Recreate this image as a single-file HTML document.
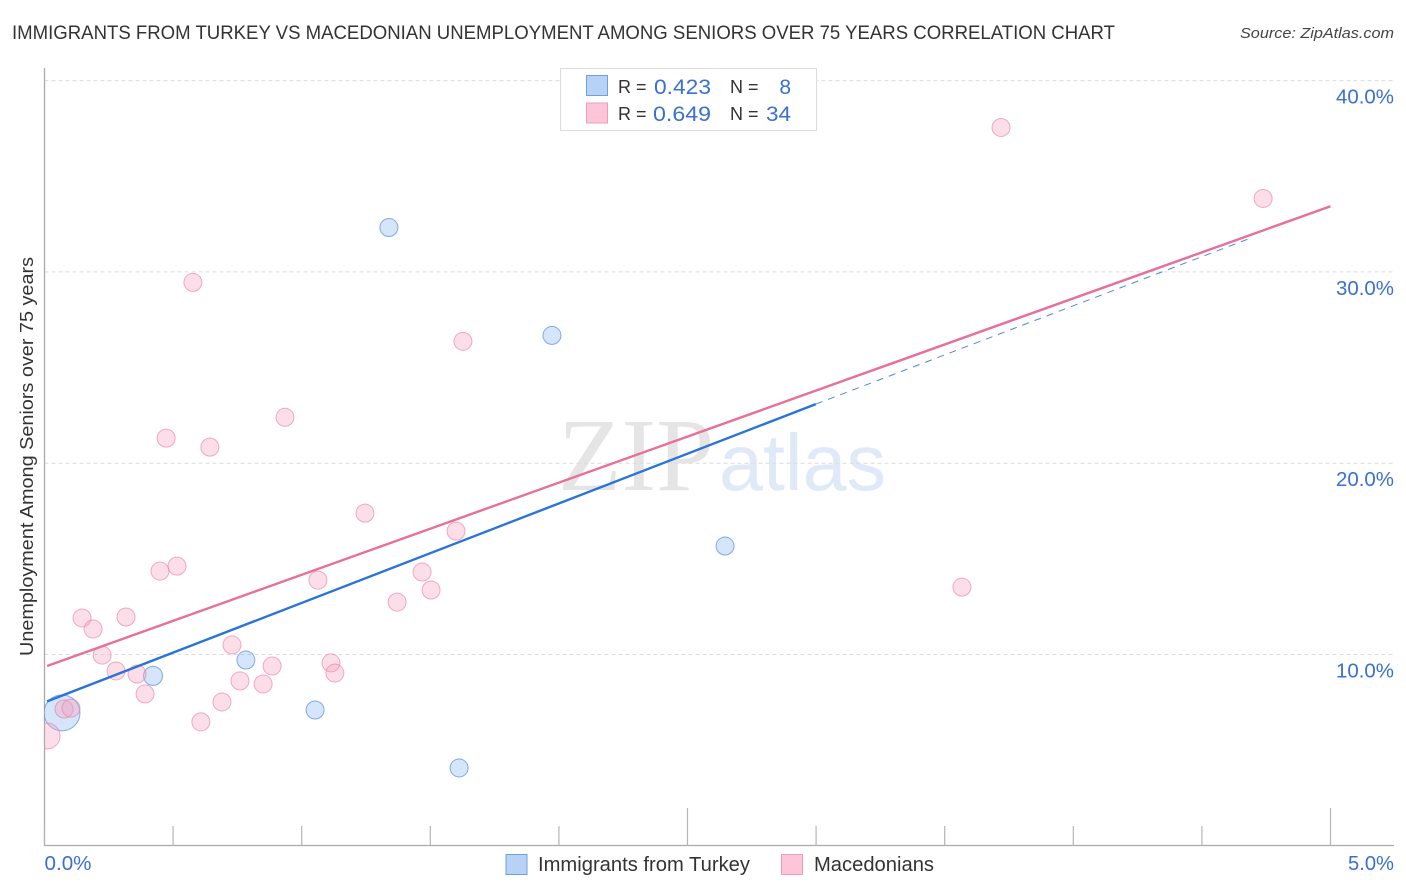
<!DOCTYPE html>
<html>
<head>
<meta charset="utf-8">
<title>Immigrants from Turkey vs Macedonian Unemployment Correlation Chart</title>
<style>
html,body{margin:0;padding:0;background:#fff;}
svg{display:block;}
text{font-family:"Liberation Sans",sans-serif;}
</style>
</head>
<body>
<svg id="chart" xmlns="http://www.w3.org/2000/svg" width="1406" height="892" viewBox="0 0 1406 892">
  <rect x="0" y="0" width="1406" height="892" fill="#ffffff"/>
  <text x="12" y="39" font-size="19.5" fill="#333333" textLength="1103" lengthAdjust="spacingAndGlyphs">IMMIGRANTS FROM TURKEY VS MACEDONIAN UNEMPLOYMENT AMONG SENIORS OVER 75 YEARS CORRELATION CHART</text>
  <text x="1394" y="38" font-size="15" font-style="italic" fill="#444444" text-anchor="end" textLength="154" lengthAdjust="spacingAndGlyphs">Source: ZipAtlas.com</text>
  <g>
    <text x="558" y="490" font-size="104" fill="#e5e5e5" style="font-family:'Liberation Serif',serif" textLength="156" lengthAdjust="spacingAndGlyphs">ZIP</text>
    <text x="719" y="490" font-size="80" fill="#e0e9f8" textLength="167" lengthAdjust="spacingAndGlyphs">atlas</text>
  </g>
  <g id="grid"></g>
  <g id="axes"></g>
  <defs>
    <clipPath id="plot-clip"><rect x="44.5" y="60" width="1350" height="786"/></clipPath>
  </defs>
  <g id="points" clip-path="url(#plot-clip)"></g>
  <g id="lines"></g>
  <g id="y-labels"></g>
  <g id="x-labels"></g>
  <text transform="translate(33,456.5) rotate(-90)" font-size="18.5" fill="#333333" text-anchor="middle" textLength="399" lengthAdjust="spacingAndGlyphs">Unemployment Among Seniors over 75 years</text>

  <g>
    <rect x="560.5" y="68.5" width="256" height="62" fill="#ffffff" stroke="#dddddd"/>
    <rect x="586.5" y="75.5" width="21" height="20" fill="#b8d2f6" stroke="#6f9fe0"/>
    <rect x="586.5" y="103" width="21" height="20" fill="#fcc6d8" stroke="#ee9db8"/>
    <text x="618" y="93" font-size="18" fill="#333333">R =</text>
    <text x="654" y="94" font-size="21" fill="#3a70cf" textLength="57" lengthAdjust="spacingAndGlyphs">0.423</text>
    <text x="730" y="93" font-size="18" fill="#333333">N =</text>
    <text x="791" y="94" font-size="21" fill="#3a70cf" text-anchor="end">8</text>
    <text x="618" y="120" font-size="18" fill="#333333">R =</text>
    <text x="653" y="121" font-size="21" fill="#3a70cf" textLength="58" lengthAdjust="spacingAndGlyphs">0.649</text>
    <text x="730" y="120" font-size="18" fill="#333333">N =</text>
    <text x="791" y="121" font-size="21" fill="#3a70cf" text-anchor="end" textLength="25" lengthAdjust="spacingAndGlyphs">34</text>
  </g>

  <g>
    <rect x="506" y="854.5" width="21" height="20" fill="#b8d2f6" stroke="#6f9fe0"/>
    <text x="538" y="871" font-size="20" fill="#333333" textLength="212" lengthAdjust="spacingAndGlyphs">Immigrants from Turkey</text>
    <rect x="781.5" y="854.5" width="21" height="20" fill="#fcc6d8" stroke="#ee9db8"/>
    <text x="814" y="871" font-size="20" fill="#333333" textLength="120" lengthAdjust="spacingAndGlyphs">Macedonians</text>
  </g>
</svg>
<script>
// Data (x and y in percent; size is the marker radius weight)
const yTicks = [10, 20, 30, 40];
const yTickLabels = ["10.0%", "20.0%", "30.0%", "40.0%"];
const xTicks = [0, 0.5, 1, 1.5, 2, 2.5, 3, 3.5, 4, 4.5, 5];
const xTickLabels = ["0.0%", "5.0%"];
const turkeyX = [1.339, 1.973, 2.646, 0.783, 0.422, 1.052, 1.612, 0.068];
const turkeyY = [32.32, 26.68, 15.67, 9.71, 8.88, 7.10, 4.07, 6.95];
const turkeySize = [9, 9, 9, 9, 9.5, 9, 9, 18];
const macedoniaX = [3.719, 4.738, 0.577, 1.627, 0.935, 0.473, 0.643, 1.246, 1.600, 0.515, 0.449, 1.468, 1.063, 1.503, 3.567, 1.371, 0.146, 0.317, 0.189, 0.729, 0.224, 0.278, 0.360, 0.885, 1.114, 1.129, 0.760, 0.850, 0.391, 0.690, 0.608, 0.076, 0.103, 0.010];
const macedoniaY = [37.55, 33.84, 29.45, 26.37, 22.40, 21.31, 20.84, 17.39, 16.45, 14.62, 14.36, 14.31, 13.89, 13.37, 13.52, 12.74, 11.91, 11.96, 11.33, 10.50, 9.97, 9.14, 8.98, 9.40, 9.56, 9.03, 8.62, 8.46, 7.94, 7.52, 6.48, 7.15, 7.20, 5.74];
const macedoniaSize = [9, 9, 9, 9, 9, 9, 9, 9, 9, 9, 9, 9, 9, 9, 9, 9, 9, 9, 9, 9, 9, 9, 9, 9, 9, 9, 9, 9, 9, 9, 9, 9, 9, 13];
const turkeyTrendX = [0.01, 2.999];
const turkeyTrendY = [7.55, 23.09];
const turkeyDashX = [2.999, 4.68];
const turkeyDashY = [23.09, 31.72];
const macedoniaTrendX = [0.01, 5.0];
const macedoniaTrendY = [9.40, 33.43];

const NS = 'http://www.w3.org/2000/svg';
function xScale(v) { return 44.5 + v * 257.2; }
function yScale(v) { return 654.5 - (v - 10) * 19.13; }
function make(tag, attrs, parent) {
  const el = document.createElementNS(NS, tag);
  for (const k in attrs) el.setAttribute(k, attrs[k]);
  parent.appendChild(el);
  return el;
}

const gridG = document.getElementById('grid');
const axesG = document.getElementById('axes');
const pointsG = document.getElementById('points');
const linesG = document.getElementById('lines');
const yLabelsG = document.getElementById('y-labels');
const xLabelsG = document.getElementById('x-labels');

yTicks.forEach(function (t, i) {
  const line = make('line', {x1: 44.5, x2: 1394, y1: yScale(t), y2: yScale(t), stroke: '#dcdcdc', 'stroke-width': 1, 'stroke-dasharray': '4 3'}, gridG);
  
  
  const label = make('text', {x: 1394, y: yScale(t) + 23, 'font-size': 20, fill: '#3a70cf', 'text-anchor': 'end', textLength: 58, lengthAdjust: 'spacingAndGlyphs'}, yLabelsG);
  label.textContent = yTickLabels[i];
  
  
});

const yAxis = make('line', {x1: 44.5, x2: 44.5, y1: 68, y2: 846, stroke: '#aaaaaa', 'stroke-width': 1.3}, axesG);


const xAxis = make('line', {x1: 44, x2: 1394, y1: 845.5, y2: 845.5, stroke: '#aaaaaa', 'stroke-width': 1.3}, axesG);



xTicks.forEach(function (t, i) {
  const tall = i === 5 || i === 10;
  const tick = make('line', {x1: xScale(t), x2: xScale(t), y1: tall ? 808 : 826, y2: 845.5, stroke: '#b5b5b5', 'stroke-width': 1.2}, axesG);
  
  
});

const xLabelLeft = make('text', {x: xScale(xTicks[0]), y: 870, 'font-size': 20, fill: '#3a70cf', textLength: 47, lengthAdjust: 'spacingAndGlyphs'}, xLabelsG);
xLabelLeft.textContent = xTickLabels[0];


const xLabelRight = make('text', {x: 1394, y: 870, 'font-size': 20, fill: '#3a70cf', 'text-anchor': 'end', textLength: 46, lengthAdjust: 'spacingAndGlyphs'}, xLabelsG);
xLabelRight.textContent = xTickLabels[1];



turkeyX.forEach(function (v, i) {
  const dot = make('circle', {cx: xScale(v), cy: yScale(turkeyY[i]), r: turkeySize[i], fill: 'rgba(135,180,240,0.35)', stroke: 'rgba(70,130,220,0.65)', 'stroke-width': 1}, pointsG);
  
  
});
macedoniaX.forEach(function (v, i) {
  const dot = make('circle', {cx: xScale(v), cy: yScale(macedoniaY[i]), r: macedoniaSize[i], fill: 'rgba(245,160,190,0.35)', stroke: 'rgba(232,120,160,0.6)', 'stroke-width': 1}, pointsG);
  
  
});

const turkeyDash = make('line', {x1: xScale(turkeyDashX[0]), y1: yScale(turkeyDashY[0]), x2: xScale(turkeyDashX[1]), y2: yScale(turkeyDashY[1]), stroke: '#4f86d8', 'stroke-width': 1, 'stroke-dasharray': '7 6'}, linesG);


const turkeyLine = make('line', {x1: xScale(turkeyTrendX[0]), y1: yScale(turkeyTrendY[0]), x2: xScale(turkeyTrendX[1]), y2: yScale(turkeyTrendY[1]), stroke: '#2a74d9', 'stroke-width': 2.4}, linesG);


const macedoniaLine = make('line', {x1: xScale(macedoniaTrendX[0]), y1: yScale(macedoniaTrendY[0]), x2: xScale(macedoniaTrendX[1]), y2: yScale(macedoniaTrendY[1]), stroke: '#e86f9b', 'stroke-width': 2.4}, linesG);


</script>
</body>
</html>
